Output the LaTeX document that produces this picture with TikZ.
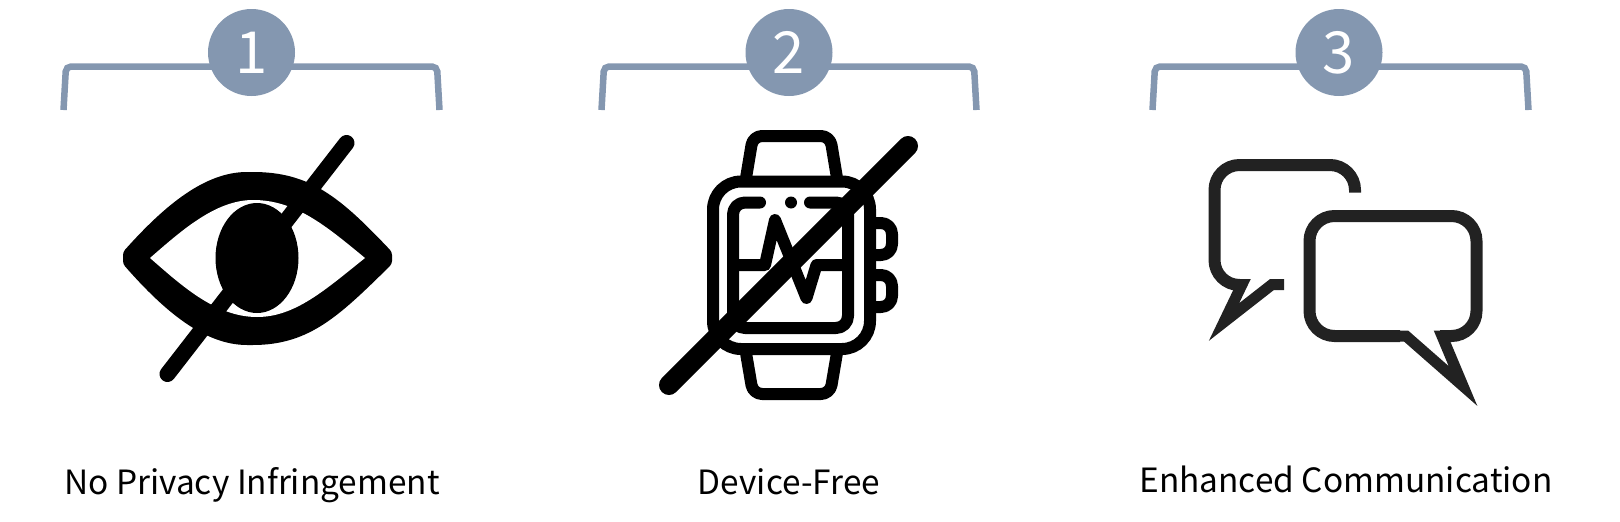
\documentclass[tikz,border=0pt]{standalone}
\usepackage{fontspec}
\setmainfont{Noto Sans CJK KR}
\usetikzlibrary{positioning}
\definecolor{badgeblue}{HTML}{8497B0}
\definecolor{bubblegray}{HTML}{222222}

\begin{document}
\begin{tikzpicture}[
        x=1pt, y=-1pt,
        bracket/.style={draw=badgeblue, line width=6.5pt, rounded corners=5pt},
        badge/.style={circle, fill=badgeblue, text=white, minimum size=87pt, inner sep=0pt, font=\fontsize{58}{58}\selectfont},
        caption/.style={anchor=base, font=\fontsize{33.4}{40}\selectfont, text=black},
        icon/.style={line width=12pt, line cap=round, line join=round},
        slash/.style={line width=20pt, line cap=round},
        bubble/.style={draw=bubblegray, line width=12pt, rounded corners=25pt}
    ]
        \useasboundingbox (0, 0) rectangle (1620, 522);

        % Brackets
        \draw[bracket] (63.5, 110) -- (66, 66.5) -- (437, 66.5) -- (439.5, 110);
        \draw[bracket] (601.5, 110) -- (604, 66.5) -- (974, 66.5) -- (976.5, 110);
        \draw[bracket] (1152.5, 110) -- (1155, 66.5) -- (1526, 66.5) -- (1528.5, 110);

        % Numbers
        \node[badge] (BadgeA) at (251.5, 52.5) {\raisebox{-2pt}{1}};
        \node[badge] (BadgeB) at (789, 52.5) {\raisebox{-2pt}{2}};
        \node[badge] (BadgeC) at (1339, 52.5) {\raisebox{-2pt}{3}};

        % Eye
        \fill[rounded corners=3pt] (123, 252) .. controls (165, 205) and (205, 172) .. (250, 172)
            .. controls (310, 172) and (340, 197) .. (392, 252) -- (392, 264)
            .. controls (340, 315) and (310, 345) .. (250, 345)
            .. controls (205, 345) and (165, 312) .. (123, 264) -- cycle;
        \fill[white] (150, 258) .. controls (180, 232) and (215, 200) .. (253, 200)
            .. controls (295, 200) and (325, 225) .. (365, 258)
            .. controls (325, 290) and (295, 317) .. (257, 317)
            .. controls (215, 317) and (180, 284) .. cycle;
        \fill (257, 258) ellipse [x radius=41.5, y radius=55];
        \draw[slash, line width=16pt] (346.5, 143) -- (167.5, 374);

        % Watch
        \draw[icon, rounded corners=28pt] (713, 181.5) rectangle (870, 349);
        \draw[icon, rounded corners=12pt] (760, 202.5) -- (733, 202.5) -- (733, 328) -- (848, 328) -- (848, 202.5) -- (810, 202.5);
        \fill (791, 202.5) circle (6);
        \draw[icon, rounded corners=9pt] (746, 178) -- (753, 136) -- (830, 136) -- (837, 178);
        \draw[icon, rounded corners=9pt] (746, 353) -- (753, 394) -- (830, 394) -- (837, 353);
        \draw[icon, rounded corners=11pt] (875, 223) -- (892, 223) -- (892, 255) -- (875, 255);
        \draw[icon, rounded corners=11pt] (875, 275) -- (892, 275) -- (892, 307) -- (875, 307);
        \draw[icon] (738, 265) -- (765, 265) -- (775, 220) -- (806.5, 298) -- (816.5, 265) -- (845, 265);
        \draw[slash] (908, 146) -- (669, 385);

        % Speech bubbles
        \draw[bubble, line cap=butt] (1355, 192.5) -- (1355, 165) -- (1214.5, 165) -- (1214.5, 285) -- (1241, 285);
        \draw[draw=bubblegray, line width=11pt, miter limit=12] (1238, 284.5) -- (1242, 284.5) -- (1224, 322) -- (1272, 284.5) -- (1284, 284.5);
        \draw[bubble] (1400, 336) -- (1309.5, 336) -- (1309.5, 216) -- (1476.5, 216) -- (1476.5, 336) -- (1440, 336);
        \draw[draw=bubblegray, line width=11pt, miter limit=12] (1396, 336) -- (1406, 336) -- (1463, 386) -- (1442, 336) -- (1452, 336);

        % Captions
        \node[caption] (LabelA) at (252, 494) {No Privacy Infringement};
        \node[caption] (LabelB) at (789, 494) {Device-Free};
        \node[caption] (LabelC) at (1346, 492) {Enhanced Communication};

    \end{tikzpicture}
\end{document}
